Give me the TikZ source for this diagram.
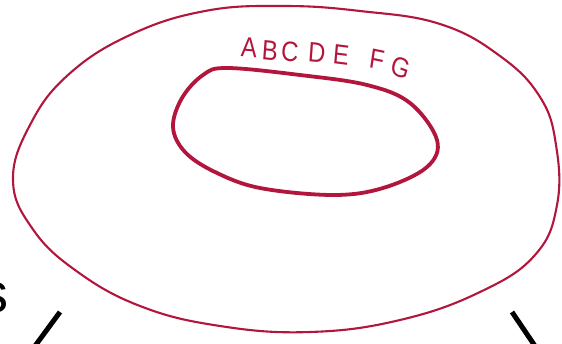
\documentclass[tikz,border=0pt]{standalone}
\usepackage{fontspec}
\setsansfont{Liberation Sans}
\usetikzlibrary{positioning}
\definecolor{inkred}{RGB}{178,22,60}

\begin{document}
\begin{tikzpicture}[
    x=1pt, y=-1pt,
    ring/.style={draw=inkred, line width=2.1pt, line join=round},
    hole/.style={draw=inkred, line width=3.8pt, line join=round},
    letter/.style={text=inkred, font=\sffamily\fontsize{28}{28}\selectfont, inner sep=0pt, xscale=0.85},
    stroke/.style={line width=5pt, black},
]
  \useasboundingbox (0,0) rectangle (562,343);

  % Outer ring
  \draw[ring] plot[smooth cycle, tension=0.7] coordinates {
    (13,180) (30,125) (68,75) (130,35) (205,11) (283,6) (360,11) (440,24)
    (500,56) (540,97) (556,145) (557,205) (535,255) (480,292) (400,320)
    (310,332) (220,326) (140,306) (75,270) (32,228)};

  % Inner hole
  \draw[hole] plot[smooth cycle, tension=0.6] coordinates {
    (173,127) (182,98) (203,75) (227,68) (300,75) (367,85) (410,103) (437,140)
    (427,167) (383,188) (333,195) (260,188) (215,172) (185,152)};

  % Label over the hole
  \foreach \ch/\px/\py/\rot [count=\i] in {A/249/48/-4, B/270/51/-5, C/290/52/-5,
      D/317/53/-5, E/341/55/-6, F/377/59/-10, G/401/68/-18}
    \node[letter, rotate=\rot] (ch-\i) at (\px,\py) {\ch};

  % Cut-off text and strokes at the bottom
  \node[font=\sffamily\fontsize{56}{56}\selectfont, anchor=base east, inner sep=0pt] (s) at (8.5,312) {s};
  \coordinate (sl-a) at (60,312);
  \coordinate (sl-b) at (35,346);
  \coordinate (sr-a) at (512,312);
  \coordinate (sr-b) at (535,346);
  \draw[stroke] (sl-a) -- (sl-b);
  \draw[stroke] (sr-a) -- (sr-b);
\end{tikzpicture}
\end{document}
